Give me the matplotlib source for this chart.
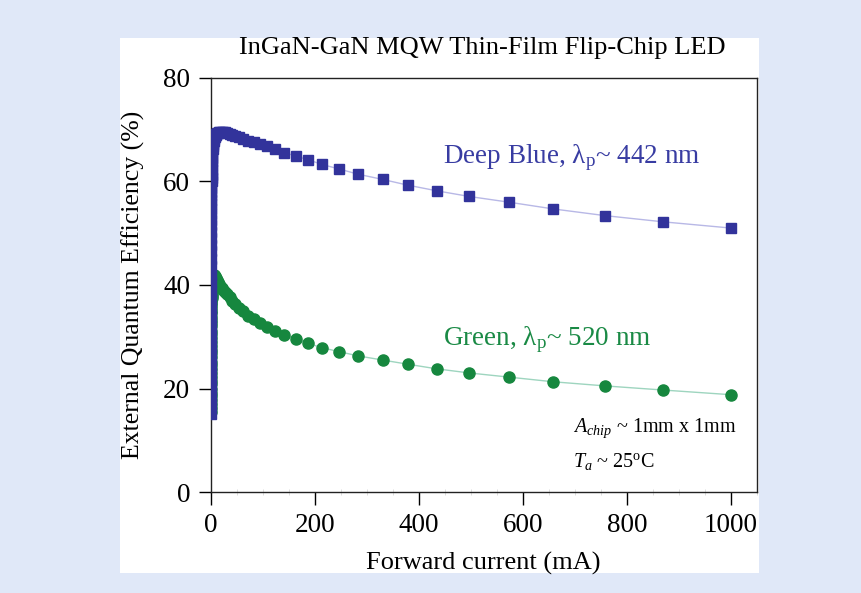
import matplotlib.pyplot as plt
from matplotlib.patches import Rectangle
from matplotlib.ticker import MultipleLocator

plt.rcParams['font.family'] = ['Liberation Serif', 'DejaVu Serif']
plt.rcParams['mathtext.fontset'] = 'custom'
plt.rcParams['mathtext.rm'] = 'Liberation Serif'
plt.rcParams['mathtext.it'] = 'Liberation Serif:italic'

# forward current (mA), shared by both curves
current = [0.1, 0.11, 0.12, 0.125, 0.13, 0.14, 0.15, 0.165, 0.18, 0.19, 0.2, 0.22,
           0.24, 0.255, 0.27, 0.29, 0.31, 0.335, 0.36, 0.385, 0.41, 0.44, 0.47,
           0.505, 0.54, 0.58, 0.62, 0.67, 0.72, 0.77, 0.82, 0.88, 0.95, 1.02, 1.1,
           1.25, 1.4, 1.7, 1.9, 2.2, 2.5, 2.9,
           3.3, 3.8, 4.4, 5.1, 5.8, 6.7, 7.7, 8.9, 10.2, 11.8, 13.5, 15.5, 18,
           20.5, 23.5, 27, 31, 36, 41, 47, 54, 62, 71, 82, 94, 107, 123, 141, 163,
           187, 213, 247, 283, 330, 378, 434, 497, 573, 658, 758, 870, 1000]

# external quantum efficiency (%)
eqe_blue = [15.0, 17.0, 19.0, 20.9, 22.8, 24.6, 26.5, 28.3, 30.2, 32.0, 33.8, 35.5,
            37.2, 38.8, 40.5, 42.0, 43.6, 45.0, 46.5, 47.8, 49.1, 50.3, 51.5,
            52.6, 53.7, 54.6, 55.6, 56.4, 57.3, 58.0, 58.8, 59.4, 60.1, 60.6, 61.2,
            62.2, 63.1, 63.9, 64.6, 65.2, 65.8,
            66.3, 66.8, 67.2, 67.6, 67.9, 68.2, 68.5, 68.7, 68.9, 69.1, 69.3, 69.4,
            69.5, 69.6, 69.6, 69.6, 69.5, 69.4, 69.2, 69.0, 68.8, 68.5, 68.2, 67.9,
            67.6, 67.3, 66.9, 66.3, 65.6, 64.9, 64.2, 63.3, 62.4, 61.4, 60.4, 59.3,
            58.2, 57.1, 56.0, 54.7, 53.4, 52.2, 51.0]
eqe_green = [15.5, 16.2, 17.0, 17.8, 18.5, 19.2, 20.0, 20.8, 21.5, 22.2, 23.0, 23.8,
             24.5, 25.2, 26.0, 26.8, 27.5, 28.2, 29.0, 29.8, 30.5, 31.2, 32.0,
             32.6, 33.3, 33.9, 34.5, 35.0, 35.6, 36.1, 36.6, 37.0, 37.5, 37.9, 38.3,
             39.0, 39.6, 40.1, 40.6, 41.0, 41.3,
             41.6, 41.7, 41.8, 41.9, 41.9, 41.9, 41.8, 41.6, 41.4, 41.2, 40.9, 40.6,
             40.2, 39.8, 39.4, 39.0, 38.6, 38.2, 37.6, 37.0, 36.3, 35.6, 34.9, 34.1,
             33.4, 32.7, 31.9, 31.1, 30.3, 29.6, 28.7, 27.9, 27.1, 26.3, 25.5, 24.7,
             23.8, 23.0, 22.2, 21.3, 20.5, 19.7, 18.8]

blue = '#32339b'
green = '#16873e'

fig = plt.figure(figsize=(8.62, 5.93), dpi=100)
fig.patch.set_facecolor('#e0e8f8')
fig.patches.append(Rectangle((0.139, 0.034), 0.741, 0.902, transform=fig.transFigure,
                             facecolor='white', edgecolor='none', zorder=-5))

ax = fig.add_axes([0.2448, 0.1703, 0.6334, 0.6982])
ax.set_zorder(1)
ax.plot(current, eqe_green, color='#9ed5bf', linewidth=1, marker='o', markersize=8,
        markerfacecolor=green, markeredgecolor=green, zorder=2)
ax.plot(current, eqe_blue, color='#b8b8e6', linewidth=1, marker='s', markersize=7.5,
        markerfacecolor=blue, markeredgecolor=blue, zorder=3)

ax.set_xlim(0, 1050)
ax.set_ylim(0, 80)
ax.set_xticks([0, 200, 400, 600, 800, 1000])
ax.set_yticks([0, 20, 40, 60, 80])
ax.xaxis.set_minor_locator(MultipleLocator(50))
ax.tick_params(which='major', direction='out', length=9, width=1, labelsize=19.5, pad=6)
ax.tick_params(which='minor', axis='x', direction='inout', length=4, width=0.6,
               color='#d8d8d8')
ax.tick_params(which='minor', axis='y', length=0)
for s in ax.spines.values():
    s.set_linewidth(1)
    s.set_color('#222222')

ax.set_xlabel('Forward current (mA)', fontsize=19)
ax.set_ylabel('External Quantum Efficiency (%)', fontsize=18.5)
ax.xaxis.set_label_coords(0.498, -0.145)
ax.yaxis.set_label_coords(-0.12, 0.5)

fig.text(0.560, 0.919, 'InGaN-GaN MQW Thin-Film Flip-Chip LED', fontsize=19,
         ha='center', va='center')

ax.text(446, 64.7, 'Deep Blue, λ$_\\mathrm{p}$~ 442 nm', color='#383ca2', fontsize=19.5,
        va='center')
ax.text(446, 29.4, 'Green, λ$_\\mathrm{p}$~ 520 nm', color='#1a8a45', fontsize=19.5,
        va='center')
ax.text(696, 12.4, '$A_{chip}$ ~ 1mm x 1mm', fontsize=14.5, va='center')
ax.text(696, 5.8, '$T_a$ ~ 25$^\\mathrm{o}$C', fontsize=14.5, va='center')

fig.savefig('out.png', dpi=100, facecolor=fig.get_facecolor())
